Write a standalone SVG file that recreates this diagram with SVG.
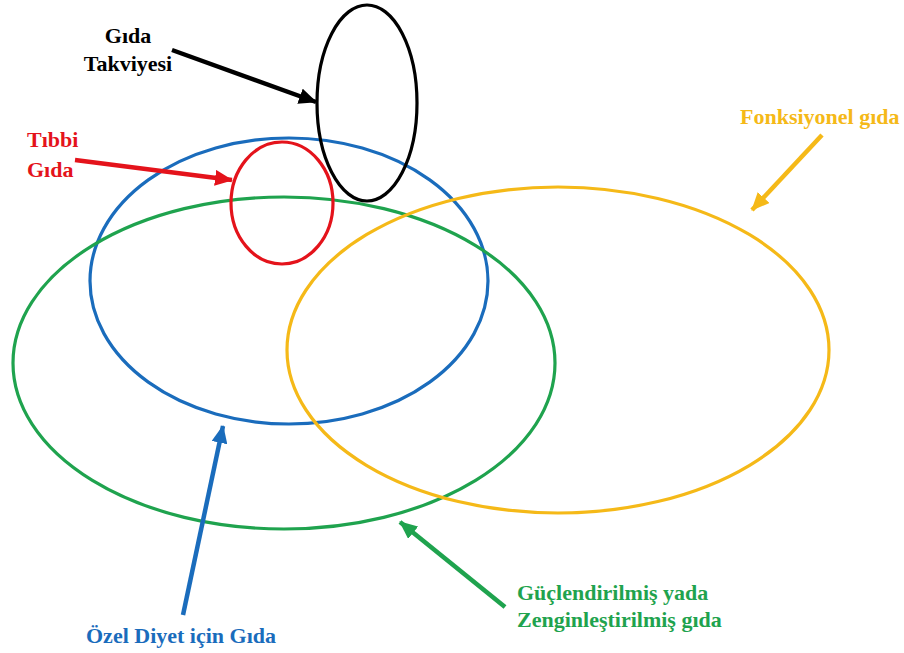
<svg xmlns="http://www.w3.org/2000/svg" width="904" height="653" viewBox="0 0 904 653">
<style>
.e{fill:none;stroke-width:3.2}
.a{fill:none;stroke-width:4.5}
.t{font-family:"Liberation Serif","Times New Roman",serif;font-weight:700;font-size:22px}
</style>
<defs>
<marker id="mBk" markerUnits="userSpaceOnUse" viewBox="0 0 18 16" refX="17" refY="8" markerWidth="18" markerHeight="16" orient="auto"><path d="M0,0 L18,8 L0,16 Z" fill="#000"/></marker>
<marker id="mR" markerUnits="userSpaceOnUse" viewBox="0 0 18 16" refX="17" refY="8" markerWidth="18" markerHeight="16" orient="auto"><path d="M0,0 L18,8 L0,16 Z" fill="#e4131b"/></marker>
<marker id="mY" markerUnits="userSpaceOnUse" viewBox="0 0 18 16" refX="17" refY="8" markerWidth="18" markerHeight="16" orient="auto"><path d="M0,0 L18,8 L0,16 Z" fill="#f5b918"/></marker>
<marker id="mB" markerUnits="userSpaceOnUse" viewBox="0 0 18 16" refX="17" refY="8" markerWidth="18" markerHeight="16" orient="auto"><path d="M0,0 L18,8 L0,16 Z" fill="#1a6cbc"/></marker>
<marker id="mG" markerUnits="userSpaceOnUse" viewBox="0 0 18 16" refX="17" refY="8" markerWidth="18" markerHeight="16" orient="auto"><path d="M0,0 L18,8 L0,16 Z" fill="#1fa34e"/></marker>
</defs>
<rect width="904" height="653" fill="#fff"/>
<g id="ozel-diyet">
<ellipse class="e" cx="289" cy="281" rx="199" ry="143" stroke="#1a6cbc"/>
</g>
<g id="guclendirilmis">
<ellipse class="e" cx="284" cy="363" rx="271" ry="166" stroke="#1fa34e"/>
</g>
<g id="fonksiyonel">
<ellipse class="e" cx="558" cy="350" rx="271" ry="163" stroke="#f5b918"/>
</g>
<g id="tibbi">
<ellipse class="e" cx="282" cy="203" rx="51" ry="61" stroke="#e4131b"/>
</g>
<g id="takviye">
<ellipse class="e" cx="367" cy="103" rx="50" ry="98" stroke="#000"/>
</g>
<g id="connectors">
<line class="a" x1="172" y1="50" x2="316" y2="102" stroke="#000" marker-end="url(#mBk)"/>
<line class="a" x1="75" y1="160" x2="232" y2="180" stroke="#e4131b" marker-end="url(#mR)"/>
<line class="a" x1="822" y1="135" x2="752" y2="210" stroke="#f5b918" marker-end="url(#mY)"/>
<line class="a" x1="183" y1="615" x2="223" y2="426" stroke="#1a6cbc" marker-end="url(#mB)"/>
<line class="a" x1="505" y1="607" x2="400" y2="522" stroke="#1fa34e" marker-end="url(#mG)"/>
</g>
<g id="labels" class="t">
<text class="t" x="128" y="43" text-anchor="middle" fill="#000">Gıda</text>
<text class="t" x="128" y="71" text-anchor="middle" fill="#000">Takviyesi</text>
<text class="t" x="27" y="147" fill="#e4131b">Tıbbi</text>
<text class="t" x="27" y="177" fill="#e4131b">Gıda</text>
<text class="t" x="740" y="124" fill="#f5b918">Fonksiyonel gıda</text>
<text class="t" x="86" y="643" fill="#1a6cbc">Özel Diyet için Gıda</text>
<text class="t" x="517" y="600" fill="#1fa34e">Güçlendirilmiş yada</text>
<text class="t" x="517" y="627" fill="#1fa34e">Zenginleştirilmiş gıda</text>
</g>
</svg>
